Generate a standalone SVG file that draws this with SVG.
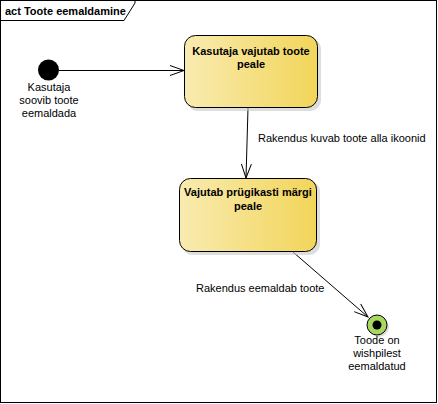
<svg xmlns="http://www.w3.org/2000/svg" width="438" height="404" viewBox="0 0 438 404">
<defs>
<linearGradient id="g" x1="0" y1="0" x2="1" y2="0">
<stop offset="0" stop-color="#F9EBB0"/>
<stop offset="1" stop-color="#F2D55A"/>
</linearGradient>
<marker id="open" markerWidth="16" markerHeight="12" refX="15" refY="6" orient="auto" markerUnits="userSpaceOnUse">
<path d="M1,1 L15,6 L1,11" fill="none" stroke="#000" stroke-width="1"/>
</marker>
</defs>
<style>
text{font-family:"Liberation Sans",Arial,sans-serif;font-size:11px;fill:#000}
.b{font-weight:bold}
.act{fill:url(#g);stroke:#000;stroke-width:1}
.sh{fill:#C8C8C8;opacity:0.6}
.c{fill:none;stroke:#000;stroke-width:1}
</style>
<rect x="0.5" y="0.5" width="436" height="402" fill="#fff" stroke="#000"/>
<path d="M0.5,20.5 H124 L135,3 V0.5" fill="none" stroke="#000"/>
<text class="b" x="5" y="15">act Toote eemaldamine</text>

<g id="connectors">
<line class="c" x1="59" y1="70.5" x2="184" y2="70.5" marker-end="url(#open)"/>
<line class="c" x1="248" y1="108" x2="246" y2="178" marker-end="url(#open)"/>
<line class="c" x1="293" y1="252" x2="368" y2="317" marker-end="url(#open)"/>
<text x="258" y="142">Rakendus kuvab toote alla ikoonid</text>
<text x="196" y="292">Rakendus eemaldab toote</text>
</g>

<g id="initial">
<circle cx="48.5" cy="70" r="10.5" fill="#000"/>
<text x="49" y="91" text-anchor="middle">Kasutaja</text>
<text x="49" y="104" text-anchor="middle">soovib toote</text>
<text x="49" y="117" text-anchor="middle">eemaldada</text>
</g>

<g id="action1">
<rect class="sh" x="187" y="38" width="134" height="73" rx="11"/>
<rect class="act" x="184.5" y="35.5" width="133" height="72" rx="11"/>
<text class="b" x="251" y="55" text-anchor="middle">Kasutaja vajutab toote</text>
<text class="b" x="251" y="68" text-anchor="middle">peale</text>
</g>

<g id="action2">
<rect class="sh" x="182" y="181" width="138" height="74" rx="11"/>
<rect class="act" x="179.5" y="178.5" width="137" height="73" rx="11"/>
<text class="b" x="248" y="196" text-anchor="middle">Vajutab prügikasti märgi</text>
<text class="b" x="248" y="210" text-anchor="middle">peale</text>
</g>

<g id="final">
<circle cx="379" cy="327" r="10" fill="#C8C8C8" opacity="0.6"/>
<circle cx="377" cy="325" r="10" fill="#A8D860" stroke="#000"/>
<circle cx="377" cy="325" r="4.5" fill="#000"/>
<text x="377" y="344" text-anchor="middle">Toode on</text>
<text x="377" y="357" text-anchor="middle">wishpilest</text>
<text x="377" y="370" text-anchor="middle">eemaldatud</text>
</g>
</svg>
